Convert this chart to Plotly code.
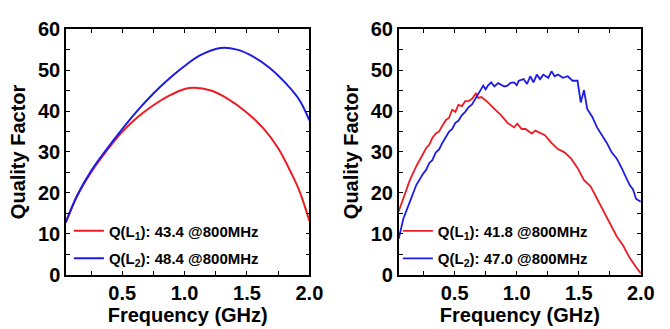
import plotly.graph_objects as go
from plotly.subplots import make_subplots

# ---- Left panel (simulated, smooth) ----
freq_left_L1 = [0.047, 0.14, 0.25, 0.376, 0.5, 0.62, 0.75, 0.88, 1.0, 1.08, 1.21, 1.34, 1.5, 1.63, 1.75, 1.86, 1.92, 1.96, 2.0]
q_left_L1 = [12.7, 19.3, 25.0, 30.3, 34.9, 38.4, 41.4, 43.8, 45.4, 45.7, 45.0, 43.1, 39.6, 35.8, 30.9, 24.5, 20.5, 17.0, 13.1]
freq_left_L2 = [0.047, 0.14, 0.25, 0.376, 0.5, 0.64, 0.75, 0.88, 1.0, 1.13, 1.29, 1.42, 1.55, 1.68, 1.81, 1.92, 2.0]
q_left_L2 = [12.7, 19.4, 25.3, 30.7, 35.6, 40.7, 44.3, 48.0, 51.0, 53.7, 55.4, 55.0, 53.3, 50.6, 46.8, 42.7, 37.7]

# ---- Right panel (measured, noisy) ----
freq_right_L1 = [0.05, 0.086, 0.139, 0.191, 0.244, 0.27, 0.296, 0.32, 0.349, 0.375, 0.401, 0.43, 0.454, 0.48, 0.506, 0.53,
                 0.559, 0.585, 0.611, 0.64, 0.671, 0.69, 0.716, 0.74, 0.768, 0.82, 0.873, 0.926, 0.979, 1.005, 1.04,
                 1.07, 1.122, 1.15, 1.175, 1.227, 1.28, 1.332, 1.385, 1.437, 1.49, 1.542, 1.595, 1.647, 1.70, 1.752,
                 1.805, 1.857, 1.91, 1.962, 2.0]
q_right_L1 = [15.5, 18.5, 23.1, 26.5, 29.5, 30.9, 31.8, 33.4, 34.5, 35.0, 36.4, 37.8, 38.3, 40.3, 39.8, 41.5,
              41.2, 42.4, 42.4, 43.0, 44.3, 43.2, 43.4, 42.8, 42.1, 40.5, 39.0, 37.1, 36.0, 36.9, 35.6,
              35.6, 34.5, 35.2, 34.8, 34.1, 32.2, 30.7, 29.9, 28.4, 26.1, 23.1, 21.6, 18.5, 15.5, 12.5,
              9.4, 7.1, 4.1, 1.8, 0.3]
freq_right_L2 = [0.05, 0.086, 0.139, 0.191, 0.244, 0.27, 0.296, 0.32, 0.349, 0.375, 0.401, 0.43, 0.454, 0.48, 0.506, 0.53,
                 0.559, 0.585, 0.611, 0.64, 0.664, 0.69, 0.73, 0.75, 0.768, 0.795, 0.82, 0.85, 0.873, 0.9, 0.926,
                 0.95, 0.979, 1.0, 1.017, 1.056, 1.083, 1.109, 1.135, 1.162, 1.188, 1.214, 1.254, 1.28, 1.306,
                 1.332, 1.372, 1.411, 1.45, 1.49, 1.516, 1.542, 1.568, 1.608, 1.647, 1.687, 1.726, 1.765, 1.805,
                 1.845, 1.884, 1.91, 1.937, 1.962, 2.0]
q_right_L2 = [8.8, 13.6, 17.8, 21.9, 24.6, 25.6, 27.3, 28.0, 29.9, 30.6, 32.2, 33.8, 34.9, 35.6, 37.1, 37.6,
              39.0, 39.8, 40.9, 41.6, 42.8, 44.0, 46.2, 45.3, 46.2, 47.0, 46.0, 46.8, 46.5, 46.0, 46.2,
              46.9, 47.0, 46.3, 47.4, 47.8, 46.6, 48.5, 47.0, 48.9, 47.8, 48.9, 48.1, 49.7, 48.5,
              48.9, 48.1, 48.5, 47.4, 47.4, 42.1, 45.1, 40.5, 38.6, 36.0, 34.1, 32.2, 29.9, 28.4,
              26.1, 23.8, 21.9, 20.8, 18.5, 17.8]

names_left = ["<b>Q(L<sub>1</sub>): 43.4 @800MHz</b>", "<b>Q(L<sub>2</sub>): 48.4 @800MHz</b>"]
names_right = ["<b>Q(L<sub>1</sub>): 41.8 @800MHz</b>", "<b>Q(L<sub>2</sub>): 47.0 @800MHz</b>"]

RED = "rgb(238,28,36)"
BLUE = "rgb(28,28,230)"
FONT = "Liberation Sans, Arial, sans-serif"

fig = make_subplots(rows=1, cols=2)

fig.add_trace(go.Scatter(x=freq_left_L1, y=q_left_L1, mode="lines", line=dict(color=RED, width=2, shape="spline"),
                         name=names_left[0], legend="legend", legendgroup="a"), 1, 1)
fig.add_trace(go.Scatter(x=freq_left_L2, y=q_left_L2, mode="lines", line=dict(color=BLUE, width=2, shape="spline"),
                         name=names_left[1], legend="legend", legendgroup="b"), 1, 1)
fig.add_trace(go.Scatter(x=freq_right_L1, y=q_right_L1, mode="lines", line=dict(color=RED, width=1.8),
                         name=names_right[0], legend="legend2", legendgroup="c"), 1, 2)
fig.add_trace(go.Scatter(x=freq_right_L2, y=q_right_L2, mode="lines", line=dict(color=BLUE, width=1.8),
                         name=names_right[1], legend="legend2", legendgroup="d"), 1, 2)

xticks = [0.25, 0.5, 0.75, 1.0, 1.25, 1.5, 1.75, 2.0]
xtext = ["", "0.5", "", "1.0", "", "1.5", "", "2.0"]
yticks = [0, 5, 10, 15, 20, 25, 30, 35, 40, 45, 50, 55, 60]
ytext = ["0", "", "10", "", "20", "", "30", "", "40", "", "50", "", "60"]

axis_common = dict(showline=True, linecolor="black", linewidth=1.6, mirror="ticks", ticks="inside",
                   ticklen=4, tickwidth=1.3, tickcolor="black", showgrid=False, zeroline=False,
                   tickfont=dict(family=FONT, size=20, color="black", weight="bold"))

fig.update_xaxes(**axis_common, range=[0.05, 2.0], tickvals=xticks, ticktext=xtext,
                 title=dict(text="<b>Frequency (GHz)</b>", font=dict(family=FONT, size=20, color="black"), standoff=3))
fig.update_yaxes(**axis_common, range=[0, 60], tickvals=yticks, ticktext=ytext,
                 title=dict(text="<b>Quality Factor</b>", font=dict(family=FONT, size=20, color="black"), standoff=7))

fig.update_layout(
    width=670, height=329, margin=dict(l=0, r=0, t=0, b=0),
    paper_bgcolor="white", plot_bgcolor="white",
    xaxis=dict(domain=[0.1007, 0.4716]), xaxis2=dict(domain=[0.6079, 0.9769]),
    yaxis=dict(domain=[0.1413, 0.9407]), yaxis2=dict(domain=[0.1413, 0.9407]),
    legend=dict(x=0.105, y=0.337, xanchor="left", yanchor="top", bgcolor="rgba(0,0,0,0)",
                font=dict(family=FONT, size=15, color="black"), itemwidth=30, tracegroupgap=5),
    legend2=dict(x=0.6065, y=0.337, xanchor="left", yanchor="top", bgcolor="rgba(0,0,0,0)",
                 font=dict(family=FONT, size=15, color="black"), itemwidth=30, tracegroupgap=5),
    showlegend=True,
)

fig.write_html("out.html")
